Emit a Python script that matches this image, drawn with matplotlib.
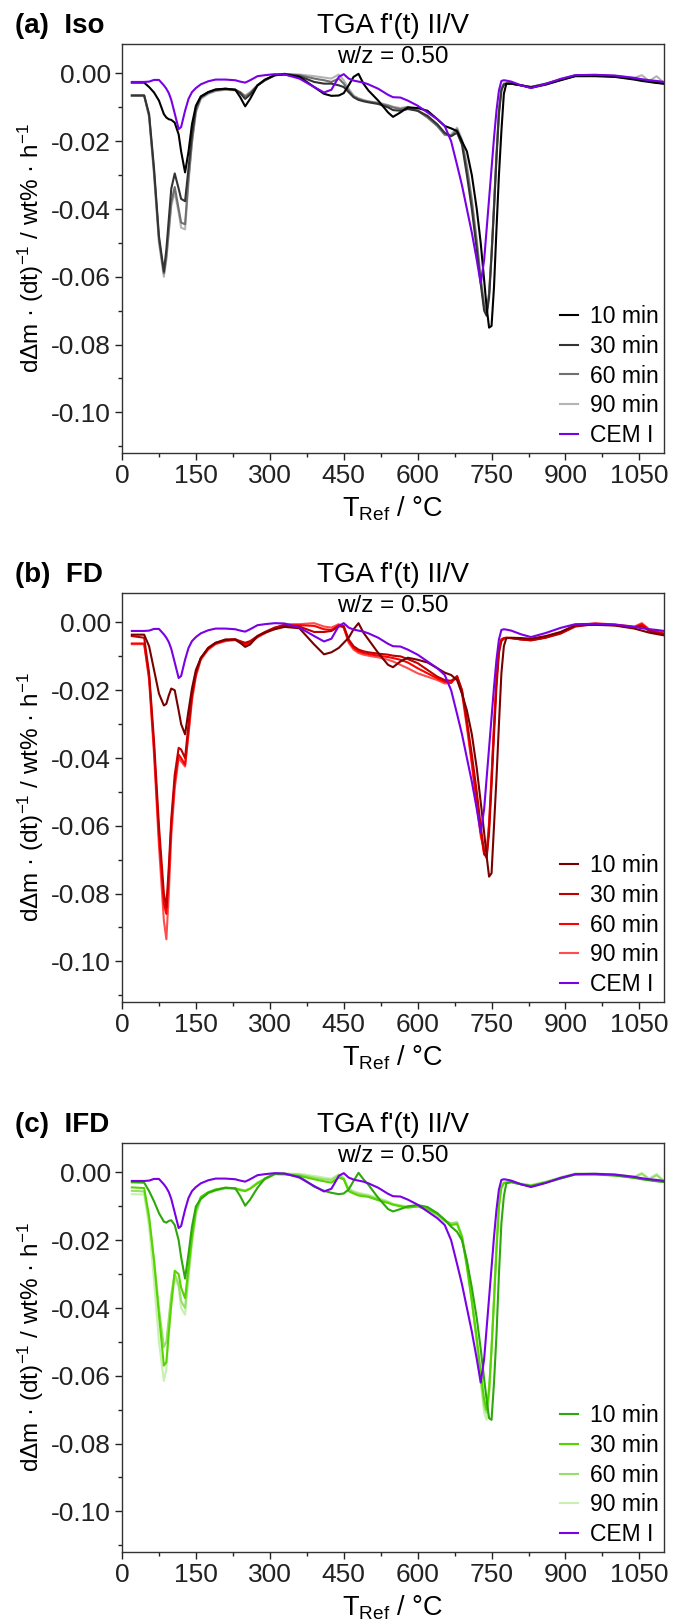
import numpy as np
import matplotlib
matplotlib.use("Agg")
import matplotlib.pyplot as plt
from matplotlib.ticker import MultipleLocator, FuncFormatter

plt.rcParams['font.family'] = ['Liberation Sans', 'DejaVu Sans']
plt.rcParams['mathtext.fontset'] = 'custom'
plt.rcParams['mathtext.rm'] = 'Liberation Sans'
plt.rcParams['mathtext.it'] = 'Liberation Sans:italic'
plt.rcParams['mathtext.bf'] = 'Liberation Sans:bold'
plt.rcParams['axes.unicode_minus'] = False

# Reference temperature grid [°C]
T = [20, 45, 55, 65, 75, 85, 90, 95, 100, 107,
     115, 120, 128, 135, 142, 150, 160, 175, 190, 210,
     230, 240, 250, 260, 275, 290, 310, 330, 360, 390,
     410, 425, 440, 450, 460, 470, 480, 490, 500, 520,
     540, 550, 565, 580, 600, 620, 640, 655, 668, 680,
     690, 700, 710, 720, 728, 735, 740, 745, 750, 755,
     760, 765, 770, 775, 780, 790, 810, 830, 860, 890,
     920, 960, 1000, 1040, 1055, 1070, 1085, 1100]

# CEM I reference (same in all panels)
cem1 = [-0.0025, -0.0025, -0.0024, -0.0019, -0.0019, -0.0035, -0.0045, -0.0058, -0.0078, -0.0118,
        -0.0164, -0.0158, -0.0110, -0.0075, -0.0055, -0.0043, -0.0032, -0.0023, -0.0018, -0.0018,
        -0.0020, -0.0024, -0.0027, -0.0020, -0.0008, -0.0005, -0.0002, -0.0003, -0.0015, -0.0040,
        -0.0056, -0.0048, -0.0010, -0.0002, -0.0015, -0.0021, -0.0024, -0.0027, -0.0032, -0.0045,
        -0.0063, -0.0070, -0.0071, -0.0080, -0.0095, -0.0115, -0.0135, -0.0155, -0.0200, -0.0270,
        -0.0330, -0.0400, -0.0470, -0.0550, -0.0620, -0.0550, -0.0460, -0.0370, -0.0280, -0.0190,
        -0.0110, -0.0050, -0.0022, -0.0020, -0.0021, -0.0024, -0.0035, -0.0043, -0.0031, -0.0016,
        -0.0005, -0.0004, -0.0006, -0.0013, -0.0017, -0.0020, -0.0022, -0.0025]

# (a) Iso
iso_10 = [-0.0027, -0.0027, -0.0040, -0.0056, -0.0080, -0.0120, -0.0130, -0.0135, -0.0137, -0.0145,
          -0.0180, -0.0230, -0.0292, -0.0230, -0.0150, -0.0095, -0.0068, -0.0055, -0.0047, -0.0045,
          -0.0048, -0.0070, -0.0097, -0.0075, -0.0035, -0.0018, -0.0005, -0.0003, -0.0010, -0.0040,
          -0.0060, -0.0066, -0.0065, -0.0058, -0.0035, -0.0010, -0.0001, -0.0030, -0.0050, -0.0080,
          -0.0115, -0.0128, -0.0115, -0.0100, -0.0102, -0.0110, -0.0135, -0.0155, -0.0162, -0.0170,
          -0.0200, -0.0230, -0.0300, -0.0400, -0.0500, -0.0610, -0.0690, -0.0750, -0.0745, -0.0630,
          -0.0460, -0.0300, -0.0170, -0.0060, -0.0030, -0.0030, -0.0035, -0.0042, -0.0033, -0.0020,
          -0.0008, -0.0008, -0.0010, -0.0018, -0.0022, -0.0025, -0.0028, -0.0030]
iso_30 = [-0.0065, -0.0065, -0.0120, -0.0280, -0.0480, -0.0585, -0.0520, -0.0430, -0.0340, -0.0295,
          -0.0340, -0.0370, -0.0377, -0.0280, -0.0180, -0.0100, -0.0068, -0.0055, -0.0048, -0.0045,
          -0.0048, -0.0058, -0.0075, -0.0062, -0.0035, -0.0020, -0.0005, -0.0001, -0.0008, -0.0025,
          -0.0030, -0.0030, -0.0035, -0.0040, -0.0055, -0.0070, -0.0078, -0.0082, -0.0085, -0.0090,
          -0.0100, -0.0108, -0.0110, -0.0105, -0.0110, -0.0125, -0.0150, -0.0175, -0.0185, -0.0175,
          -0.0210, -0.0300, -0.0400, -0.0520, -0.0620, -0.0700, -0.0715, -0.0660, -0.0540, -0.0400,
          -0.0250, -0.0120, -0.0050, -0.0033, -0.0030, -0.0030, -0.0035, -0.0040, -0.0031, -0.0019,
          -0.0007, -0.0006, -0.0009, -0.0016, -0.0020, -0.0023, -0.0027, -0.0030]
iso_60 = [-0.0065, -0.0065, -0.0125, -0.0290, -0.0490, -0.0590, -0.0540, -0.0460, -0.0380, -0.0335,
          -0.0400, -0.0440, -0.0445, -0.0310, -0.0200, -0.0110, -0.0072, -0.0058, -0.0050, -0.0047,
          -0.0048, -0.0055, -0.0068, -0.0058, -0.0035, -0.0020, -0.0005, -0.0002, -0.0005, -0.0015,
          -0.0020, -0.0025, -0.0015, -0.0030, -0.0050, -0.0068, -0.0075, -0.0080, -0.0083, -0.0088,
          -0.0095, -0.0100, -0.0105, -0.0100, -0.0110, -0.0130, -0.0155, -0.0180, -0.0185, -0.0165,
          -0.0200, -0.0280, -0.0380, -0.0500, -0.0610, -0.0690, -0.0705, -0.0650, -0.0530, -0.0390,
          -0.0240, -0.0110, -0.0045, -0.0030, -0.0030, -0.0030, -0.0035, -0.0040, -0.0030, -0.0018,
          -0.0006, -0.0005, -0.0008, -0.0015, -0.0018, -0.0021, -0.0025, -0.0029]
iso_90 = [-0.0065, -0.0065, -0.0130, -0.0300, -0.0500, -0.0600, -0.0550, -0.0470, -0.0390, -0.0350,
          -0.0410, -0.0455, -0.0460, -0.0320, -0.0205, -0.0115, -0.0075, -0.0060, -0.0052, -0.0048,
          -0.0050, -0.0056, -0.0065, -0.0055, -0.0035, -0.0020, -0.0006, -0.0002, -0.0003, -0.0008,
          -0.0012, -0.0015, -0.0003, -0.0020, -0.0045, -0.0065, -0.0073, -0.0078, -0.0082, -0.0086,
          -0.0093, -0.0098, -0.0102, -0.0098, -0.0108, -0.0128, -0.0155, -0.0182, -0.0180, -0.0160,
          -0.0195, -0.0270, -0.0370, -0.0490, -0.0600, -0.0680, -0.0700, -0.0650, -0.0530, -0.0390,
          -0.0240, -0.0110, -0.0045, -0.0030, -0.0030, -0.0030, -0.0035, -0.0040, -0.0030, -0.0017,
          -0.0005, -0.0004, -0.0007, -0.0013, -0.0005, -0.0022, -0.0008, -0.0028]

# (b) FD
fd_10 = [-0.0036, -0.0036, -0.0070, -0.0140, -0.0210, -0.0245, -0.0240, -0.0215, -0.0195, -0.0200,
         -0.0260, -0.0300, -0.0330, -0.0260, -0.0195, -0.0140, -0.0105, -0.0075, -0.0060, -0.0050,
         -0.0050, -0.0060, -0.0072, -0.0065, -0.0040, -0.0030, -0.0020, -0.0013, -0.0017, -0.0065,
         -0.0094, -0.0088, -0.0075, -0.0060, -0.0045, -0.0020, -0.0002, -0.0030, -0.0050, -0.0090,
         -0.0125, -0.0132, -0.0115, -0.0104, -0.0110, -0.0118, -0.0135, -0.0148, -0.0155, -0.0170,
         -0.0210, -0.0260, -0.0330, -0.0430, -0.0530, -0.0620, -0.0690, -0.0750, -0.0740, -0.0600,
         -0.0460, -0.0300, -0.0150, -0.0070, -0.0046, -0.0045, -0.0046, -0.0048, -0.0040, -0.0028,
         -0.0008, -0.0007, -0.0009, -0.0018, -0.0024, -0.0030, -0.0034, -0.0038]
fd_30 = [-0.0040, -0.0045, -0.0150, -0.0350, -0.0600, -0.0800, -0.0840, -0.0720, -0.0580, -0.0450,
         -0.0370, -0.0375, -0.0400, -0.0300, -0.0210, -0.0150, -0.0105, -0.0075, -0.0060, -0.0052,
         -0.0050, -0.0055, -0.0060, -0.0055, -0.0040, -0.0028, -0.0015, -0.0008, -0.0012, -0.0028,
         -0.0028, -0.0025, -0.0012, -0.0010, -0.0050, -0.0070, -0.0080, -0.0085, -0.0088, -0.0092,
         -0.0095, -0.0098, -0.0100, -0.0108, -0.0120, -0.0140, -0.0160, -0.0170, -0.0172, -0.0160,
         -0.0200, -0.0290, -0.0390, -0.0500, -0.0600, -0.0680, -0.0695, -0.0620, -0.0480, -0.0330,
         -0.0190, -0.0090, -0.0055, -0.0048, -0.0046, -0.0046, -0.0050, -0.0053, -0.0045, -0.0033,
         -0.0012, -0.0005, -0.0008, -0.0015, -0.0010, -0.0025, -0.0030, -0.0035]
fd_60 = [-0.0062, -0.0062, -0.0160, -0.0370, -0.0630, -0.0830, -0.0860, -0.0750, -0.0600, -0.0470,
         -0.0390, -0.0400, -0.0420, -0.0320, -0.0220, -0.0150, -0.0105, -0.0078, -0.0062, -0.0053,
         -0.0050, -0.0058, -0.0065, -0.0058, -0.0042, -0.0030, -0.0016, -0.0008, -0.0008, -0.0010,
         -0.0020, -0.0022, -0.0008, -0.0015, -0.0055, -0.0075, -0.0085, -0.0090, -0.0093, -0.0098,
         -0.0102, -0.0105, -0.0110, -0.0118, -0.0135, -0.0150, -0.0165, -0.0175, -0.0178, -0.0158,
         -0.0200, -0.0300, -0.0410, -0.0530, -0.0620, -0.0685, -0.0690, -0.0600, -0.0460, -0.0310,
         -0.0170, -0.0080, -0.0050, -0.0046, -0.0045, -0.0046, -0.0050, -0.0052, -0.0044, -0.0030,
         -0.0010, -0.0004, -0.0007, -0.0014, -0.0005, -0.0022, -0.0028, -0.0033]
fd_90 = [-0.0064, -0.0064, -0.0170, -0.0390, -0.0660, -0.0880, -0.0935, -0.0800, -0.0630, -0.0490,
         -0.0400, -0.0410, -0.0425, -0.0330, -0.0230, -0.0160, -0.0110, -0.0080, -0.0064, -0.0055,
         -0.0052, -0.0060, -0.0067, -0.0060, -0.0044, -0.0032, -0.0017, -0.0005, -0.0005, -0.0002,
         -0.0012, -0.0015, -0.0005, -0.0015, -0.0060, -0.0080, -0.0090, -0.0095, -0.0098, -0.0103,
         -0.0110, -0.0115, -0.0125, -0.0135, -0.0150, -0.0160, -0.0170, -0.0180, -0.0178, -0.0160,
         -0.0210, -0.0310, -0.0420, -0.0540, -0.0630, -0.0670, -0.0675, -0.0590, -0.0450, -0.0300,
         -0.0160, -0.0075, -0.0050, -0.0046, -0.0045, -0.0046, -0.0050, -0.0052, -0.0044, -0.0030,
         -0.0010, -0.0002, -0.0006, -0.0012, -0.0002, -0.0020, -0.0025, -0.0030]

# (c) IFD
ifd_10 = [-0.0029, -0.0030, -0.0055, -0.0085, -0.0120, -0.0145, -0.0148, -0.0143, -0.0141, -0.0155,
          -0.0200, -0.0250, -0.0313, -0.0240, -0.0160, -0.0100, -0.0078, -0.0060, -0.0052, -0.0045,
          -0.0047, -0.0070, -0.0098, -0.0080, -0.0045, -0.0018, -0.0004, -0.0004, -0.0012, -0.0042,
          -0.0054, -0.0060, -0.0064, -0.0062, -0.0050, -0.0025, -0.0001, -0.0020, -0.0036, -0.0075,
          -0.0108, -0.0115, -0.0108, -0.0100, -0.0096, -0.0102, -0.0120, -0.0140, -0.0160, -0.0175,
          -0.0200, -0.0260, -0.0340, -0.0430, -0.0520, -0.0610, -0.0670, -0.0725, -0.0730, -0.0620,
          -0.0480, -0.0300, -0.0150, -0.0070, -0.0032, -0.0028, -0.0035, -0.0040, -0.0030, -0.0018,
          -0.0006, -0.0006, -0.0009, -0.0016, -0.0020, -0.0023, -0.0026, -0.0028]
ifd_30 = [-0.0044, -0.0046, -0.0130, -0.0260, -0.0420, -0.0570, -0.0560, -0.0470, -0.0390, -0.0290,
          -0.0300, -0.0340, -0.0371, -0.0280, -0.0190, -0.0110, -0.0072, -0.0058, -0.0050, -0.0045,
          -0.0047, -0.0052, -0.0055, -0.0048, -0.0032, -0.0020, -0.0005, -0.0006, -0.0010, -0.0020,
          -0.0026, -0.0030, -0.0015, -0.0020, -0.0055, -0.0062, -0.0068, -0.0070, -0.0072, -0.0082,
          -0.0090, -0.0095, -0.0100, -0.0104, -0.0100, -0.0108, -0.0122, -0.0140, -0.0155, -0.0152,
          -0.0190, -0.0280, -0.0380, -0.0490, -0.0590, -0.0670, -0.0700, -0.0640, -0.0520, -0.0380,
          -0.0230, -0.0100, -0.0045, -0.0032, -0.0030, -0.0029, -0.0035, -0.0040, -0.0029, -0.0017,
          -0.0005, -0.0005, -0.0008, -0.0015, -0.0018, -0.0022, -0.0025, -0.0027]
ifd_60 = [-0.0054, -0.0056, -0.0140, -0.0260, -0.0400, -0.0515, -0.0500, -0.0430, -0.0360, -0.0300,
          -0.0330, -0.0380, -0.0400, -0.0300, -0.0200, -0.0120, -0.0075, -0.0060, -0.0052, -0.0046,
          -0.0047, -0.0050, -0.0053, -0.0047, -0.0030, -0.0018, -0.0004, -0.0004, -0.0006, -0.0015,
          -0.0020, -0.0022, -0.0008, -0.0018, -0.0050, -0.0058, -0.0063, -0.0066, -0.0069, -0.0078,
          -0.0088, -0.0094, -0.0098, -0.0102, -0.0100, -0.0110, -0.0125, -0.0143, -0.0150, -0.0148,
          -0.0190, -0.0270, -0.0380, -0.0500, -0.0610, -0.0690, -0.0710, -0.0650, -0.0520, -0.0370,
          -0.0220, -0.0095, -0.0040, -0.0030, -0.0029, -0.0028, -0.0034, -0.0038, -0.0028, -0.0015,
          -0.0004, -0.0004, -0.0007, -0.0013, -0.0004, -0.0020, -0.0008, -0.0026]
ifd_90 = [-0.0064, -0.0065, -0.0160, -0.0320, -0.0500, -0.0615, -0.0580, -0.0480, -0.0390, -0.0310,
          -0.0340, -0.0400, -0.0420, -0.0310, -0.0210, -0.0125, -0.0078, -0.0062, -0.0054, -0.0048,
          -0.0048, -0.0052, -0.0055, -0.0048, -0.0030, -0.0018, -0.0004, -0.0003, -0.0004, -0.0010,
          -0.0015, -0.0018, -0.0005, -0.0015, -0.0048, -0.0055, -0.0060, -0.0063, -0.0066, -0.0075,
          -0.0085, -0.0092, -0.0097, -0.0100, -0.0100, -0.0112, -0.0128, -0.0145, -0.0150, -0.0145,
          -0.0185, -0.0265, -0.0375, -0.0500, -0.0620, -0.0710, -0.0730, -0.0660, -0.0520, -0.0370,
          -0.0210, -0.0090, -0.0038, -0.0029, -0.0028, -0.0027, -0.0033, -0.0037, -0.0027, -0.0014,
          -0.0003, -0.0003, -0.0006, -0.0012, -0.0001, -0.0018, -0.0004, -0.0025]

labels = ['10 min', '30 min', '60 min', '90 min']
panel_names = ['(a)  Iso', '(b)  FD', '(c)  IFD']
panel_data = [[iso_10, iso_30, iso_60, iso_90],
              [fd_10, fd_30, fd_60, fd_90],
              [ifd_10, ifd_30, ifd_60, ifd_90]]
panel_colors = [['#000000', '#333333', '#707070', '#b4b4b4'],
                ['#7a0000', '#c00000', '#ff0000', '#ff4d4d'],
                ['#2ca80a', '#55d400', '#95e06a', '#c8f0b0']]
cem_color = '#7a00e6'


def yfmt(v, pos):
    s = '%.2f' % v
    return '0.00' if s == '-0.00' else s


fig = plt.figure(figsize=(6.75, 16.22), dpi=100)
W, H = 675, 1622
ax_left, ax_w, ax_h = 122, 542, 409
ax_tops = [44, 593, 1143]

for k in range(3):
    top = ax_tops[k]
    ax = fig.add_axes([ax_left / W, (H - top - ax_h) / H, ax_w / W, ax_h / H])
    lines = []
    for i in [3, 2, 1, 0]:
        ln, = ax.plot(T, panel_data[k][i], color=panel_colors[k][i], lw=1.5, label=labels[i])
        lines.append(ln)
    lc, = ax.plot(T, cem1, color=cem_color, lw=1.5, label='CEM I')
    handles = lines[::-1] + [lc]

    ax.set_xlim(0, 1100)
    ax.set_ylim(-0.112, 0.0087)
    ax.xaxis.set_major_locator(MultipleLocator(150))
    ax.xaxis.set_minor_locator(MultipleLocator(75))
    ax.yaxis.set_major_locator(MultipleLocator(0.02))
    ax.yaxis.set_minor_locator(MultipleLocator(0.01))
    ax.yaxis.set_major_formatter(FuncFormatter(yfmt))
    ax.tick_params(which='both', direction='out', top=False, right=False,
                   labelsize=19, colors='#222222', width=1.0)
    ax.tick_params(which='major', length=5, pad=3)
    ax.tick_params(which='minor', length=3)
    for sp in ax.spines.values():
        sp.set_linewidth(1.0)
        sp.set_color('#333333')

    ax.set_ylabel('dΔm · (dt)$^{-1}$ / wt% · h$^{-1}$', fontsize=17.5, va='center')
    ax.yaxis.set_label_coords(-0.168, 0.5)
    ax.set_xlabel('T$_{\\mathrm{Ref}}$ / °C', fontsize=19.5, va='center')
    ax.xaxis.set_label_coords(0.5, -0.137)

    ax.text(0.5, 1.044, "TGA f'(t) II/V", transform=ax.transAxes,
            ha='center', va='center', fontsize=20)
    ax.text(0.5, 0.968, 'w/z = 0.50', transform=ax.transAxes,
            ha='center', va='center', fontsize=17.5)
    ax.text(-0.197, 1.044, panel_names[k], transform=ax.transAxes,
            ha='left', va='center', fontsize=20, fontweight='bold')

    ax.legend(handles=handles, loc='lower right', frameon=False, fontsize=16.5,
              handlelength=0.8, handletextpad=0.5, labelspacing=0.3,
              borderaxespad=0.1, borderpad=0.15)

fig.savefig('out.png', dpi=100)
